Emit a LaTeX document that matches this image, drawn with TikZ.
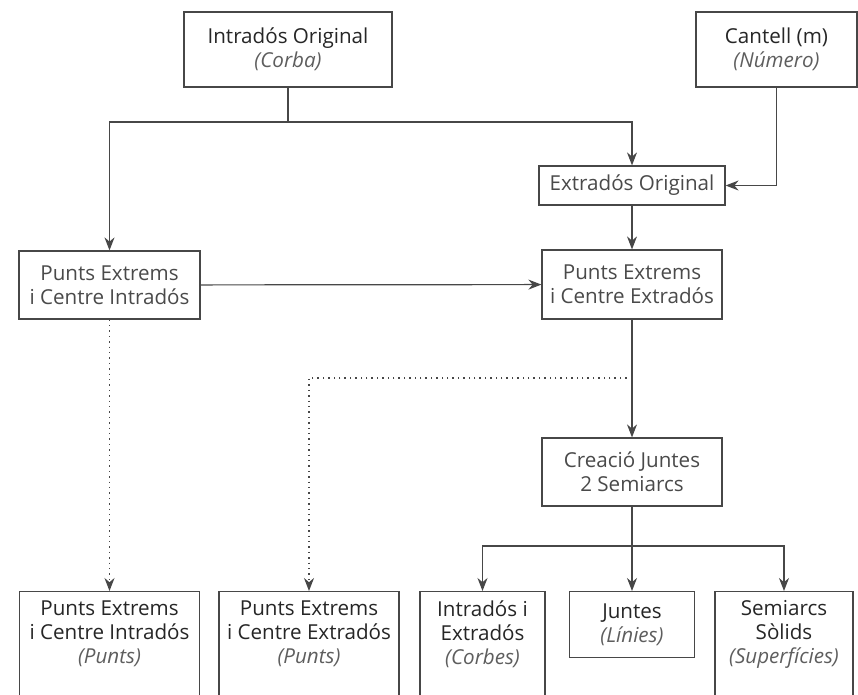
\documentclass[tikz,border=0pt]{standalone}
\usepackage{fontspec}
\setmainfont{Open Sans}
\usetikzlibrary{arrows.meta,calc,positioning}
\usepackage{xcolor}

\definecolor{linegray}{HTML}{474747}
\definecolor{titlegray}{HTML}{262626}
\definecolor{midgray}{HTML}{4A4A4A}
\definecolor{subgray}{HTML}{5E5E5E}

\newcommand{\subtxt}[1]{\textcolor{subgray}{\textit{#1}}}

\begin{document}
\begin{tikzpicture}[x=0.5pt,y=-0.5pt,
    >={Stealth[length=6.5pt,width=5pt]},
    box/.style={draw=linegray, line width=0.6pt, align=center, inner xsep=0pt, inner ysep=0pt,
        font=\fontsize{10.3}{12}\selectfont},
    inbox/.style={box, text=titlegray},
    stepbox/.style={box, text=midgray},
    outbox/.style={box, text=titlegray, anchor=north, inner ysep=4.5pt, text depth=30pt},
    flow/.style={->, draw=linegray, line width=0.6pt},
    dots/.style={->, draw=linegray, line width=0.7pt, dotted}]

    \useasboundingbox (0,0) rectangle (858,695);
    \fill[white] (0,0) rectangle (858,695);
    \clip (0,0) rectangle (858,695);

    %inputs
    \node[inbox, minimum width=104pt, minimum height=37.5pt] (intOrig) at (288,49.5) {Intradós Original\\\subtxt{(Corba)}};
    \node[inbox, minimum width=80.5pt, minimum height=37.5pt] (cantell) at (776.5,49.5) {Cantell (m)\\\subtxt{(Número)}};

    %steps
    \node[stepbox, minimum width=93pt, minimum height=19.5pt] (extOrig) at (632,185.5) {Extradós Original};
    \node[stepbox, minimum width=90.5pt, minimum height=34pt] (peI) at (109.5,285) {Punts Extrems\\i Centre Intradós};
    \node[stepbox, minimum width=90pt, minimum height=34.5pt] (peE) at (632,284.5) {Punts Extrems\\i Centre Extradós};
    \node[stepbox, minimum width=90pt, minimum height=34pt] (creacio) at (632,472) {Creació Juntes\\2 Semiarcs};

    %outputs
    \node[outbox, minimum width=90pt] (outPI) at (109.5,591) {Punts Extrems\\i Centre Intradós\\\subtxt{(Punts)}};
    \node[outbox, minimum width=90pt] (outPE) at (309,591) {Punts Extrems\\i Centre Extradós\\\subtxt{(Punts)}};
    \node[outbox, minimum width=62.5pt] (outIE) at (482.5,591) {Intradós i\\Extradós\\\subtxt{(Corbes)}};
    \node[inbox, anchor=north, minimum width=62.5pt, minimum height=33pt] (outJ) at (632,591) {Juntes\\\subtxt{(Línies)}};
    \node[outbox, minimum width=69pt] (outS) at (784,591) {Semiarcs\\Sòlids\\\subtxt{(Superfícies)}};

    %branch points
    \coordinate (split1) at (288,122);
    \coordinate (split2) at (632,378);
    \coordinate (split3) at (632,546);

    %solid lines
    \draw [flow, -] (intOrig) -- (split1);
    \draw [flow] (split1) -| (peI);
    \draw [flow] (split1) -| (extOrig);
    \draw [flow] (cantell) |- (extOrig);
    \draw [flow] (extOrig) -- (peE);
    \draw [flow] (peI) -- (peE);
    \draw [flow] (peE) -- (creacio);
    \draw [flow, -] (creacio) -- (split3);
    \draw [flow] (split3) -| (outIE);
    \draw [flow] (split3) -- (outJ);
    \draw [flow] (split3) -| (outS);

    %dotted lines
    \draw [dots] (peI) -- (outPI);
    \draw [dots] (split2) -| (outPE);

\end{tikzpicture}
\end{document}
